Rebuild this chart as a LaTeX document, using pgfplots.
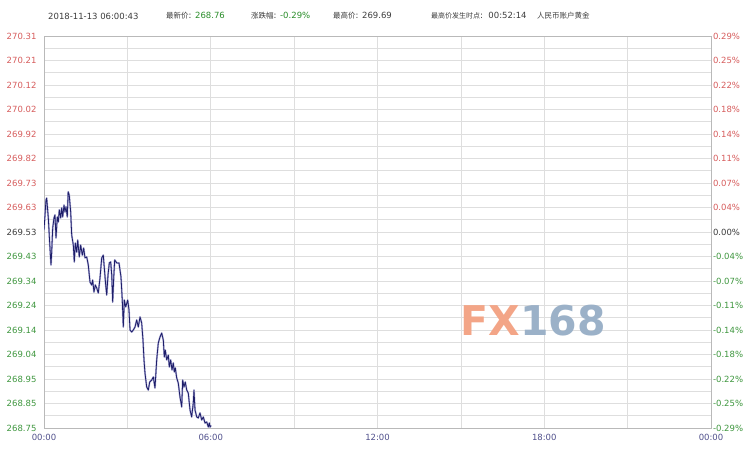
\documentclass[border=0pt]{standalone}
\usepackage{pgfplots}
\pgfplotsset{compat=1.18}
\usepackage{fontspec}
\setmainfont{DejaVu Sans}
\newfontfamily\cjk{Noto Sans CJK SC}

\definecolor{upred}{RGB}{214,92,92}
\definecolor{dngreen}{RGB}{62,150,62}
\definecolor{midgray}{RGB}{60,60,60}
\definecolor{valgreen}{RGB}{40,140,40}
\definecolor{timeblue}{RGB}{80,80,140}
\definecolor{gridgray}{RGB}{222,222,222}
\definecolor{framegray}{RGB}{185,185,185}
\definecolor{pricenavy}{RGB}{30,30,105}
\definecolor{pricehalo}{RGB}{175,175,215}
\definecolor{wmorange}{RGB}{243,165,135}
\definecolor{wmblue}{RGB}{155,177,200}

\pgfplotstableread{
min price
0     269.538
4.3   269.657
5.8   269.665
9.3   269.586
12.9  269.466
15.1  269.399
16.6  269.450
18.8  269.546
21.6  269.586
23.7  269.598
25.9  269.506
28.7  269.590
30.9  269.570
33.0  269.618
36.1  269.586
38.2  269.626
40.4  269.590
43.2  269.637
45.3  269.610
47.5  269.630
50.3  269.590
52.2  269.690
54.5  269.677
57.6  269.610
59.8  269.518
63.3  269.478
65.4  269.411
67.6  269.486
70.6  269.450
72.8  269.498
76.2  269.431
79.2  269.478
82.7  269.438
85.7  269.466
88.5  269.427
92.2  269.431
95.6  269.399
99.3  269.331
103.0 269.319
105.1 269.339
107.9 269.291
110.8 269.319
113.8 269.307
117.2 269.287
120.9 269.347
124.6 269.427
128.0 269.438
130.2 269.387
133.2 269.319
135.4 269.279
138.2 269.359
141.0 269.407
144.0 269.411
146.2 269.359
148.3 269.251
150.5 269.347
152.6 269.419
157.0 269.407
161.9 269.407
166.2 269.351
169.0 269.259
171.2 269.152
173.4 269.259
176.4 269.232
180.7 269.259
183.5 269.220
185.7 269.140
189.3 269.132
192.8 269.140
196.5 269.152
200.1 269.180
203.6 269.152
207.3 269.192
210.9 269.168
213.7 269.100
215.9 269.021
218.0 268.969
221.7 268.913
225.2 268.901
228.2 268.933
232.5 268.941
236.0 268.953
239.6 268.909
243.3 269.021
246.7 269.088
250.4 269.112
254.1 269.128
257.6 269.100
259.7 269.033
261.9 269.060
264.9 269.021
268.4 269.040
270.5 268.993
273.5 269.021
276.3 268.981
279.1 269.009
281.3 268.973
283.5 268.989
286.5 268.949
289.9 268.929
293.6 268.873
297.3 268.834
299.4 268.941
302.2 268.913
305.0 268.933
308.1 268.901
311.5 268.889
315.2 268.822
318.8 268.794
322.3 268.850
323.8 268.901
326.0 268.822
329.7 268.794
333.1 268.790
336.8 268.810
340.5 268.782
343.9 268.794
347.6 268.770
351.3 268.774
354.7 268.754
356.9 268.770
358.4 268.754
360.7 268.760
}\pricedata

\pgfplotsset{
  goldframe/.style={
    at={(0pt,0pt)}, anchor=south west,
    scale only axis, width=667pt, height=392pt,
    xmin=0, xmax=1440, ymin=268.75, ymax=270.31,
    ytick={268.75,268.8475,268.945,269.0425,269.14,269.2375,269.335,269.4325,269.53,269.6275,269.725,269.8225,269.92,270.0175,270.115,270.2125,270.31},
    tick style={draw=none},
    axis line style={draw=framegray, line width=0.6pt},
    tick label style={font=\fontsize{8.5}{10}\selectfont},
  }
}

\begin{document}
\begin{tikzpicture}
\useasboundingbox (-44pt,-22pt) rectangle (702pt,428pt);

% header line
\begin{scope}[every node/.style={anchor=west, inner sep=0pt, font=\fontsize{8.5}{10}\selectfont, text=midgray}]
\node at (4pt,412pt) {2018-11-13 06:00:43};
\node at (122pt,412pt) {{\cjk\fontsize{7.5}{9}\selectfont 最新价}: \textcolor{valgreen}{268.76}};
\node at (207pt,412pt) {{\cjk\fontsize{7.5}{9}\selectfont 涨跌幅}: \textcolor{valgreen}{-0.29\%}};
\node at (289pt,412pt) {{\cjk\fontsize{7.5}{9}\selectfont 最高价}: 269.69};
\node at (387pt,412pt) {{\cjk\fontsize{7}{9}\selectfont 最高价发生时点}:\ \ 00:52:14};
\node at (493pt,412pt) {{\cjk\fontsize{7.5}{9}\selectfont 人民币账户黄金}};
\end{scope}

\begin{axis}[goldframe,
  xtick={0,360,720,1080,1440},
  xticklabels={00:00,06:00,12:00,18:00,00:00},
  minor xtick={180,540,900,1260},
  minor y tick num=1,
  grid=both,
  major grid style={draw=gridgray, line width=0.6pt},
  minor grid style={draw=gridgray, line width=0.6pt},
  xticklabel style={text=timeblue, yshift=-3pt},
  yticklabels={
    \textcolor{dngreen}{268.75},\textcolor{dngreen}{268.85},\textcolor{dngreen}{268.95},\textcolor{dngreen}{269.04},
    \textcolor{dngreen}{269.14},\textcolor{dngreen}{269.24},\textcolor{dngreen}{269.34},\textcolor{dngreen}{269.43},
    \textcolor{midgray}{269.53},
    \textcolor{upred}{269.63},\textcolor{upred}{269.73},\textcolor{upred}{269.82},\textcolor{upred}{269.92},
    \textcolor{upred}{270.02},\textcolor{upred}{270.12},\textcolor{upred}{270.21},\textcolor{upred}{270.31}},
  yticklabel style={xshift=-4pt},
]
\node[font=\fontsize{41}{41}\selectfont\bfseries] at (axis cs:1056,269.176)
  {\textcolor{wmorange}{FX}\textcolor{wmblue}{168}};
\addplot[draw=pricehalo, line width=1.8pt, line join=round] table[x=min, y=price] {\pricedata};
\addplot[draw=pricenavy, line width=0.8pt, line join=round] table[x=min, y=price] {\pricedata};
\end{axis}

\begin{axis}[goldframe,
  axis y line*=right, hide x axis,
  yticklabels={
    \textcolor{dngreen}{-0.29\%},\textcolor{dngreen}{-0.25\%},\textcolor{dngreen}{-0.22\%},\textcolor{dngreen}{-0.18\%},
    \textcolor{dngreen}{-0.14\%},\textcolor{dngreen}{-0.11\%},\textcolor{dngreen}{-0.07\%},\textcolor{dngreen}{-0.04\%},
    \textcolor{midgray}{0.00\%},
    \textcolor{upred}{0.04\%},\textcolor{upred}{0.07\%},\textcolor{upred}{0.11\%},\textcolor{upred}{0.14\%},
    \textcolor{upred}{0.18\%},\textcolor{upred}{0.22\%},\textcolor{upred}{0.25\%},\textcolor{upred}{0.29\%}},
  yticklabel style={anchor=west, xshift=-1.5pt},
]
\end{axis}
\end{tikzpicture}
\end{document}
